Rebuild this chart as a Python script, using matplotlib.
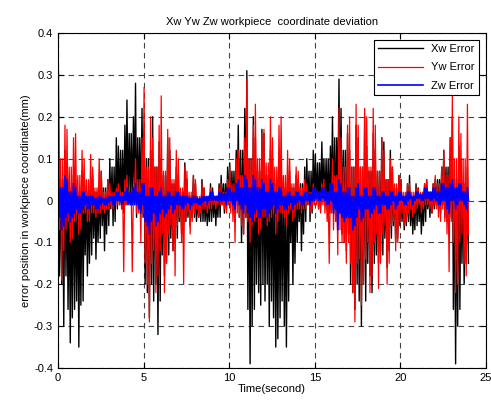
import numpy as np
import matplotlib.pyplot as plt

plt.rcParams['font.family'] = ['Liberation Sans', 'DejaVu Sans']

# spike extremes, one value per 0.25 s bin (0 .. 24 s)
xw_hi = [0.31, 0.12, 0.08, 0.06, 0.05, 0.07, 0.04, 0.05, 0.06, 0.04, 0.07, 0.05,
         0.10, 0.15, 0.13, 0.18, 0.24, 0.20, 0.28, 0.22, 0.17, 0.12, 0.20, 0.14,
         0.10, 0.15, 0.12, 0.08, 0.06, 0.09, 0.05, 0.06, 0.04, 0.05, 0.03, 0.04,
         0.03, 0.04, 0.06, 0.08, 0.09, 0.12, 0.18, 0.22, 0.31, 0.20, 0.15, 0.17,
         0.16, 0.12, 0.10, 0.07, 0.06, 0.05, 0.07, 0.06, 0.05, 0.08, 0.10, 0.12,
         0.11, 0.14, 0.10, 0.13, 0.20, 0.29, 0.22, 0.16, 0.12, 0.18, 0.15, 0.20,
         0.13, 0.16, 0.12, 0.15, 0.14, 0.12, 0.08, 0.06, 0.05, 0.04, 0.06, 0.04,
         0.03, 0.04, 0.05, 0.04, 0.05, 0.08, 0.12, 0.15, 0.20, 0.13, 0.10, 0.08]
xw_lo = [-0.20, -0.30, -0.34, -0.28, -0.35, -0.25, -0.18, -0.15, -0.14, -0.10, -0.12, -0.08,
         -0.06, -0.05, -0.02, -0.03, 0.00, -0.01, 0.00, -0.02, -0.22, -0.28, -0.20, -0.32,
         -0.18, -0.15, -0.12, -0.10, -0.08, -0.05, -0.06, -0.04, -0.04, -0.05, -0.06, -0.05,
         -0.06, -0.04, -0.03, -0.02, -0.02, -0.05, -0.10, -0.08, -0.39, -0.30, -0.22, -0.25,
         -0.20, -0.30, -0.35, -0.33, -0.30, -0.35, -0.20, -0.15, -0.12, -0.08, -0.05, -0.03,
         -0.02, -0.01, -0.02, -0.03, -0.05, -0.03, -0.10, -0.12, -0.22, -0.26, -0.30, -0.20,
         -0.18, -0.22, -0.15, -0.12, -0.16, -0.12, -0.10, -0.09, -0.07, -0.06, -0.08, -0.07,
         -0.08, -0.06, -0.04, -0.03, -0.02, -0.03, -0.05, -0.08, -0.39, -0.30, -0.20, -0.15]

yw_hi = [0.24, 0.18, 0.17, 0.15, 0.16, 0.12, 0.10, 0.11, 0.08, 0.10, 0.07, 0.05,
         0.04, 0.03, 0.04, 0.05, 0.06, 0.03, 0.10, 0.15, 0.27, 0.20, 0.15, 0.18,
         0.25, 0.17, 0.15, 0.12, 0.10, 0.08, 0.07, 0.06, 0.05, 0.04, 0.03, 0.03,
         0.02, 0.03, 0.04, 0.05, 0.08, 0.10, 0.12, 0.15, 0.29, 0.18, 0.23, 0.16,
         0.17, 0.20, 0.15, 0.18, 0.20, 0.12, 0.10, 0.08, 0.07, 0.05, 0.04, 0.04,
         0.03, 0.04, 0.05, 0.04, 0.10, 0.22, 0.15, 0.18, 0.20, 0.23, 0.18, 0.22,
         0.20, 0.22, 0.18, 0.15, 0.12, 0.10, 0.08, 0.06, 0.05, 0.04, 0.04, 0.03,
         0.03, 0.04, 0.05, 0.04, 0.06, 0.08, 0.12, 0.15, 0.25, 0.20, 0.16, 0.23]
yw_lo = [-0.19, -0.12, -0.10, -0.09, -0.08, -0.07, -0.05, -0.05, -0.04, -0.03, -0.03, -0.02,
         -0.02, -0.01, -0.02, -0.17, -0.01, -0.17, -0.03, -0.10, -0.20, -0.29, -0.22, -0.18,
         -0.22, -0.15, -0.12, -0.18, -0.10, -0.20, -0.08, -0.05, -0.04, -0.03, -0.03, -0.02,
         -0.02, -0.01, -0.02, -0.03, -0.05, -0.10, -0.06, -0.08, -0.10, -0.06, -0.08, -0.07,
         -0.06, -0.05, -0.08, -0.05, -0.04, -0.06, -0.05, -0.04, -0.03, -0.02, -0.03, -0.02,
         -0.02, -0.03, -0.05, -0.15, -0.05, -0.13, -0.10, -0.15, -0.22, -0.29, -0.25, -0.20,
         -0.22, -0.18, -0.21, -0.15, -0.20, -0.15, -0.12, -0.10, -0.06, -0.05, -0.04, -0.03,
         -0.03, -0.02, -0.02, -0.03, -0.04, -0.05, -0.08, -0.17, -0.22, -0.20, -0.15, -0.18]

zw_hi = [0.05, 0.06, 0.05, 0.04, 0.03, 0.02, 0.02, 0.01, 0.01, 0.01, 0.01, 0.01,
         0.01, 0.02, 0.02, 0.02, 0.03, 0.03, 0.04, 0.04, 0.04, 0.03, 0.03, 0.02,
         0.03, 0.02, 0.02, 0.02, 0.02, 0.01, 0.01, 0.01, 0.01, 0.01, 0.01, 0.02,
         0.02, 0.02, 0.02, 0.03, 0.03, 0.04, 0.05, 0.06, 0.05, 0.06, 0.05, 0.05,
         0.04, 0.05, 0.04, 0.03, 0.03, 0.02, 0.02, 0.02, 0.02, 0.02, 0.02, 0.03,
         0.03, 0.03, 0.03, 0.04, 0.04, 0.05, 0.04, 0.03, 0.03, 0.03, 0.04, 0.03,
         0.03, 0.03, 0.03, 0.02, 0.02, 0.02, 0.02, 0.02, 0.02, 0.02, 0.02, 0.02,
         0.02, 0.03, 0.03, 0.03, 0.03, 0.04, 0.04, 0.04, 0.05, 0.04, 0.04, 0.03]
zw_lo = [-0.07, -0.06, -0.05, -0.04, -0.03, -0.03, -0.02, -0.02, -0.02, -0.02, -0.01, -0.01,
         -0.01, -0.01, -0.01, 0.00, -0.01, -0.01, -0.02, -0.03, -0.06, -0.08, -0.06, -0.05,
         -0.04, -0.03, -0.03, -0.02, -0.02, -0.02, -0.02, -0.01, -0.01, -0.01, -0.01, 0.00,
         0.00, 0.00, 0.00, -0.01, -0.01, -0.02, -0.02, -0.03, -0.04, -0.05, -0.04, -0.04,
         -0.04, -0.03, -0.03, -0.02, -0.02, -0.02, -0.02, -0.01, -0.01, -0.01, -0.01, 0.00,
         0.00, 0.00, -0.01, -0.01, -0.02, -0.07, -0.05, -0.04, -0.07, -0.06, -0.05, -0.04,
         -0.04, -0.03, -0.03, -0.03, -0.02, -0.02, -0.02, -0.01, -0.01, -0.01, -0.01, 0.00,
         0.00, 0.00, 0.00, 0.00, -0.01, -0.01, -0.02, -0.03, -0.02, -0.01, -0.01, -0.02]

# dense core of each trace, one value per 0.5 s
xw_core_hi = [0.05, 0.03, 0.02, 0.02, 0.02, 0.03, 0.08, 0.12, 0.16, 0.15, 0.10, 0.08,
              0.06, 0.04, 0.02, 0.01, 0.00, 0.00, 0.01, 0.04, 0.07, 0.12, 0.10, 0.07,
              0.06, 0.04, 0.03, 0.03, 0.04, 0.07, 0.09, 0.10, 0.15, 0.12, 0.08, 0.08,
              0.07, 0.07, 0.05, 0.03, 0.01, 0.00, 0.00, 0.02, 0.05, 0.08, 0.05, 0.04]
xw_core_lo = [-0.18, -0.26, -0.24, -0.13, -0.09, -0.06, -0.02, -0.01, 0.00, -0.04, -0.20, -0.24,
              -0.13, -0.09, -0.05, -0.04, -0.05, -0.05, -0.04, -0.01, 0.00, -0.04, -0.26, -0.20,
              -0.24, -0.28, -0.24, -0.10, -0.05, -0.01, 0.00, 0.00, -0.03, -0.08, -0.20, -0.24,
              -0.15, -0.13, -0.09, -0.06, -0.05, -0.06, -0.05, -0.02, -0.01, -0.04, -0.26, -0.15]
yw_core_hi = [0.10, 0.08, 0.06, 0.05, 0.03, 0.02, 0.02, 0.02, 0.02, 0.05, 0.08, 0.08,
              0.07, 0.05, 0.03, 0.02, 0.01, 0.01, 0.01, 0.02, 0.04, 0.06, 0.10, 0.10,
              0.09, 0.08, 0.06, 0.04, 0.03, 0.02, 0.02, 0.02, 0.06, 0.08, 0.08, 0.08,
              0.08, 0.07, 0.05, 0.04, 0.02, 0.02, 0.02, 0.02, 0.04, 0.06, 0.10, 0.10]
yw_core_lo = [-0.07, -0.05, -0.03, -0.03, -0.03, -0.02, -0.01, -0.01, 0.00, -0.03, -0.15, -0.12,
              -0.08, -0.06, -0.04, -0.03, -0.02, -0.02, -0.01, -0.01, -0.03, -0.04, -0.05, -0.04,
              -0.04, -0.03, -0.03, -0.02, -0.02, -0.01, -0.01, -0.03, -0.07, -0.10, -0.15, -0.14,
              -0.10, -0.08, -0.06, -0.05, -0.03, -0.02, -0.01, -0.01, -0.02, -0.05, -0.10, -0.08]
zw_core_hi = [0.03, 0.02, 0.01, 0.01, 0.005, 0.005, 0.01, 0.01, 0.02, 0.02, 0.01, 0.01,
              0.01, 0.01, 0.01, 0.005, 0.005, 0.01, 0.01, 0.015, 0.02, 0.03, 0.03, 0.03,
              0.02, 0.02, 0.01, 0.01, 0.01, 0.015, 0.02, 0.02, 0.02, 0.02, 0.01, 0.01,
              0.01, 0.01, 0.01, 0.01, 0.01, 0.01, 0.015, 0.02, 0.02, 0.03, 0.03, 0.02]
zw_core_lo = [-0.04, -0.03, -0.02, -0.01, -0.01, -0.005, 0.00, 0.00, -0.01, -0.01, -0.05, -0.03,
              -0.02, -0.01, -0.01, -0.005, -0.005, 0.00, 0.00, 0.00, 0.00, -0.01, -0.03, -0.02,
              -0.02, -0.01, -0.01, -0.005, 0.00, 0.00, 0.005, 0.00, -0.03, -0.04, -0.04, -0.02,
              -0.02, -0.01, -0.01, 0.00, 0.00, 0.005, 0.005, 0.005, 0.00, 0.00, 0.00, 0.00]

bin_width = 0.25


def trace(hi, lo, core_hi, core_lo):
    hi, lo = np.asarray(hi), np.asarray(lo)
    chi = np.repeat(core_hi, 2)
    clo = np.repeat(core_lo, 2)
    start = np.arange(len(hi)) * bin_width
    t = np.column_stack([start + 0.03, start + 0.09, start + 0.16, start + 0.22]).ravel()
    even = np.column_stack([hi, clo, chi, lo])
    odd = np.column_stack([chi, lo, hi, clo])
    v = np.where((np.arange(len(hi)) % 2 == 0)[:, None], even, odd).ravel()
    return t, v


fig = plt.figure(figsize=(4.91, 4.08), dpi=100)
ax = fig.add_axes([0.118, 0.098, 0.872, 0.821])

t, v = trace(xw_hi, xw_lo, xw_core_hi, xw_core_lo)
ax.plot(t, v, color='black', lw=1.0, label='Xw Error')
t, v = trace(yw_hi, yw_lo, yw_core_hi, yw_core_lo)
ax.plot(t, v, color='red', lw=0.9, label='Yw Error')
t, v = trace(zw_hi, zw_lo, zw_core_hi, zw_core_lo)
ax.plot(t, v, color='blue', lw=1.2, label='Zw Error')

ax.set_xlim(0, 25)
ax.set_ylim(-0.4, 0.4)
ax.set_xticks(np.arange(0, 26, 5))
ax.set_yticks(np.round(np.arange(-0.4, 0.41, 0.1), 1))
ax.set_yticklabels(['-0.4', '-0.3', '-0.2', '-0.1', '0', '0.1', '0.2', '0.3', '0.4'])
ax.tick_params(direction='in', top=True, right=True, labelsize=8, length=4)
ax.grid(True, color='#444444', linestyle=(0, (5, 4)), linewidth=0.8)

ax.set_title('Xw Yw Zw workpiece  coordinate deviation', fontsize=8)
ax.set_xlabel('Time(second)', fontsize=8, labelpad=1)
ax.set_ylabel('error position in workpiece coordinate(mm)', fontsize=8, labelpad=2)

leg = ax.legend(loc='upper right', fontsize=8, fancybox=False, framealpha=1,
                edgecolor='black', handlelength=4, borderaxespad=0.6,
                labelspacing=0.75)
leg.get_frame().set_linewidth(0.8)

fig.savefig('out.png', dpi=100)
